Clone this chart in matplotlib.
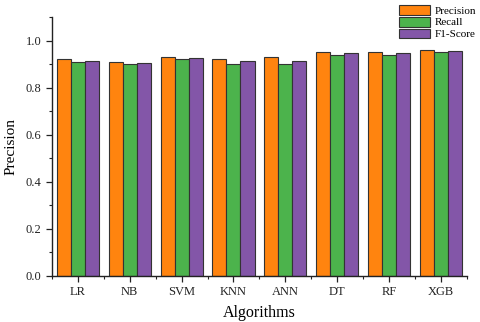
import matplotlib
matplotlib.use("Agg")
import matplotlib.pyplot as plt
import numpy as np
from matplotlib.ticker import MultipleLocator, FixedLocator

algorithms = ["LR", "NB", "SVM", "KNN", "ANN", "DT", "RF", "XGB"]
precision = [0.92, 0.91, 0.93, 0.92, 0.93, 0.952, 0.952, 0.96]
recall = [0.91, 0.90, 0.92, 0.90, 0.90, 0.94, 0.94, 0.952]
f1_score = [0.915, 0.906, 0.925, 0.915, 0.915, 0.946, 0.946, 0.956]
series_names = ["Precision", "Recall", "F1-Score"]
colors = ["#FF840F", "#4CB34C", "#8356A8"]

plt.rcParams['font.family'] = ['Liberation Serif', 'DejaVu Serif']

fig = plt.figure(figsize=(4.8, 3.22), dpi=100)
ax = fig.add_axes([0.108, 0.143, 0.865, 0.804])

x = np.arange(len(algorithms))
w = 0.27
for i, (vals, name, c) in enumerate(zip([precision, recall, f1_score], series_names, colors)):
    ax.bar(x + (i - 1) * w, vals, width=w, color=c, edgecolor="#333333", linewidth=0.8, label=name)

ax.set_xlim(-0.5, 7.5)
ax.set_ylim(0, 1.1)
ax.set_xticks(x)
ax.set_xticklabels(algorithms, fontsize=9)
ax.xaxis.set_minor_locator(FixedLocator(np.arange(-0.5, 8, 1.0)))
ax.set_yticks([0.0, 0.2, 0.4, 0.6, 0.8, 1.0])
ax.set_yticklabels(["0.0", "0.2", "0.4", "0.6", "0.8", "1.0"], fontsize=9)
ax.yaxis.set_minor_locator(MultipleLocator(0.1))
ax.tick_params(axis="both", which="major", direction="out", length=4, width=0.9, colors="#222222")
ax.tick_params(axis="both", which="minor", direction="out", length=2, width=0.8, colors="#222222")
for s in ["top", "right"]:
    ax.spines[s].set_visible(False)
for s in ["left", "bottom"]:
    ax.spines[s].set_linewidth(1.0)
    ax.spines[s].set_color("#222222")

ax.set_xlabel("Algorithms", fontsize=11.5, labelpad=5)
ax.set_ylabel("Precision", fontsize=11, labelpad=6)

fig.legend(loc="upper right", bbox_to_anchor=(1.005, 1.006), frameon=False, fontsize=8,
           handlelength=2.8, handleheight=1.0, labelspacing=0.1, handletextpad=0.4,
           borderaxespad=0.2)

fig.savefig("out.png", dpi=100)
